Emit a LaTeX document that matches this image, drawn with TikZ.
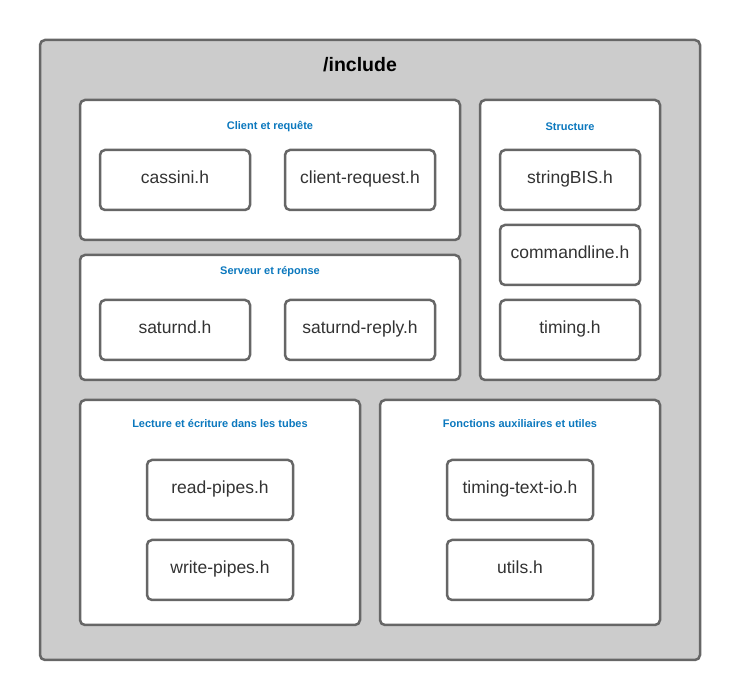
\documentclass[tikz,border=0pt]{standalone}
\usepackage{fontspec}
\setmainfont{Liberation Sans}
\usetikzlibrary{positioning}
\definecolor{strokegray}{HTML}{666666}
\definecolor{outerfill}{HTML}{CCCCCC}
\definecolor{titleblue}{HTML}{0B78BE}
\definecolor{filetext}{HTML}{333333}
\tikzset{
  outerbox/.style={draw=strokegray, fill=outerfill, line width=2.5pt, rounded corners=5pt},
  groupbox/.style={draw=strokegray, fill=white, line width=2.5pt, rounded corners=5pt},
  filebox/.style={draw=strokegray, fill=white, line width=2.5pt, rounded corners=5pt,
    minimum height=60pt, text=filetext, font=\fontsize{17.5}{20}\selectfont, inner sep=0pt,
    text height=11pt, text depth=4.4pt},
  grouptitle/.style={text=titleblue, font=\fontsize{11}{13}\selectfont\bfseries},
}
\begin{document}
\begin{tikzpicture}[x=1pt, y=-1pt]
\useasboundingbox (0,0) rectangle (740,700);
% outer folder
\draw[outerbox] (40,40) rectangle (700,660);
\node[font=\fontsize{19.5}{22}\selectfont\bfseries] (include) at (360,65) {/include};
% groups
\draw[groupbox] (80,100) rectangle (460,240);
\node[grouptitle] (clienttitle) at (270,127) {Client et requête};
\draw[groupbox] (80,255) rectangle (460,380);
\node[grouptitle] (servertitle) at (270,272) {Serveur et réponse};
\draw[groupbox] (480,100) rectangle (660,380);
\node[grouptitle] (structtitle) at (570,127) {Structure};
\draw[groupbox] (80,400) rectangle (360,625);
\node[grouptitle] (pipestitle) at (220,424) {Lecture et écriture dans les tubes};
\draw[groupbox] (380,400) rectangle (660,625);
\node[grouptitle] (utiltitle) at (520,424) {Fonctions auxiliaires et utiles};
% files
\node[filebox, minimum width=150pt] (cassini) at (175,180) {cassini.h};
\node[filebox, minimum width=150pt] (clientreq) at (360,180) {client-request.h};
\node[filebox, minimum width=150pt] (saturnd) at (175,330) {saturnd.h};
\node[filebox, minimum width=150pt] (saturndreply) at (360,330) {saturnd-reply.h};
\node[filebox, minimum width=140pt] (stringbis) at (570,180) {stringBIS.h};
\node[filebox, minimum width=140pt] (commandline) at (570,255) {commandline.h};
\node[filebox, minimum width=140pt] (timing) at (570,330) {timing.h};
\node[filebox, minimum width=146pt] (readpipes) at (220,490) {read-pipes.h};
\node[filebox, minimum width=146pt] (writepipes) at (220,570) {write-pipes.h};
\node[filebox, minimum width=146pt] (timingio) at (520,490) {timing-text-io.h};
\node[filebox, minimum width=146pt] (utils) at (520,570) {utils.h};
\end{tikzpicture}
\end{document}
